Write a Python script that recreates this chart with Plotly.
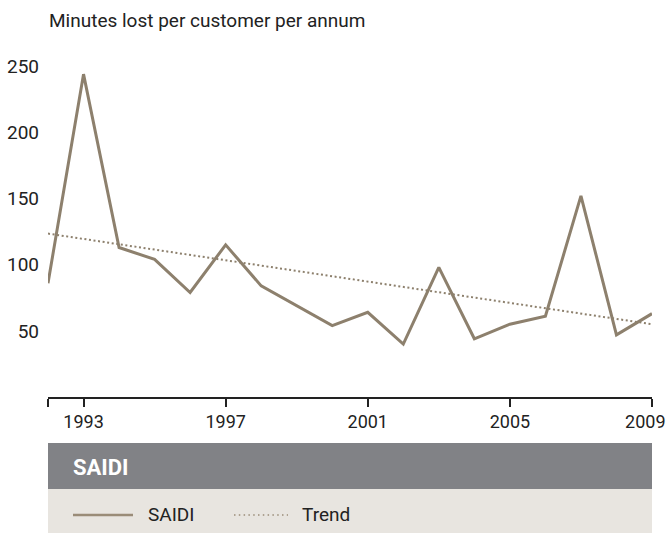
import plotly.graph_objects as go

years = list(range(1992, 2010))
saidi = [86, 244, 113, 104, 79, 115, 84, 69, 54, 64, 40, 98, 44, 55, 61, 152, 47, 63]
trend_years = [1992, 2009]
trend = [123.5, 55]

y_ticks = [50, 100, 150, 200, 250]
x_ticks = [1993, 1997, 2001, 2005, 2009]

line_col = "#8d806d"
font = "Roboto, 'Liberation Sans', sans-serif"

W, H = 671, 533
L, R, T, B = 48, 19, 53, 136
plot_h = H - T - B


def py(px):
    # page pixel row -> paper y
    return (H - B - px) / plot_h


def px_x(px):
    return (px - L) / (W - L - R)


# last label sits against the page edge; nbsp padding nudges it back inside
tick_text = [""] + [str(v) for v in x_ticks]
tick_text[-1] += "\u00a0\u00a0\u00a0"

fig = go.Figure()
fig.add_trace(go.Scatter(x=years, y=saidi, mode="lines", name="SAIDI",
                         line=dict(color=line_col, width=3), showlegend=False))
fig.add_trace(go.Scatter(x=trend_years, y=trend, mode="lines", name="Trend",
                         line=dict(color=line_col, width=2, dash="2px,2.6px"),
                         showlegend=False))

shapes = [
    # header bar
    dict(type="rect", xref="paper", yref="paper", x0=0, x1=1, y0=py(489), y1=py(443),
         fillcolor="#818286", line_width=0, layer="below"),
    # legend box
    dict(type="rect", xref="paper", yref="paper", x0=0, x1=1, y0=py(534), y1=py(489),
         fillcolor="#e8e5e0", line_width=0, layer="below"),
    # legend samples
    dict(type="line", xref="paper", yref="paper", x0=px_x(73), x1=px_x(133), y0=py(515), y1=py(515),
         line=dict(color="#9a8c78", width=2.5)),
    dict(type="line", xref="paper", yref="paper", x0=px_x(234), x1=px_x(288), y0=py(515), y1=py(515),
         line=dict(color="#9a8c78", width=1.5, dash="1.5px,3.3px")),
]

annotations = [
    dict(text="Minutes lost per customer per annum", xref="paper", yref="paper",
         x=px_x(47), y=py(20), xanchor="left", yanchor="middle", showarrow=False,
         font=dict(size=19, color="#222")),
    dict(text="<b>SAIDI</b>", xref="paper", yref="paper", x=px_x(71), y=py(467),
         xanchor="left", yanchor="middle", showarrow=False,
         font=dict(size=22, color="white")),
    dict(text="SAIDI", xref="paper", yref="paper", x=px_x(146), y=py(514),
         xanchor="left", yanchor="middle", showarrow=False,
         font=dict(size=19, color="#222")),
    dict(text="Trend", xref="paper", yref="paper", x=px_x(300), y=py(514),
         xanchor="left", yanchor="middle", showarrow=False,
         font=dict(size=19, color="#222")),
]

fig.update_layout(
    width=W, height=H,
    margin=dict(l=L, r=R, t=T, b=B),
    paper_bgcolor="white", plot_bgcolor="white",
    font=dict(family=font, size=19, color="#222"),
    shapes=shapes, annotations=annotations,
    xaxis=dict(range=[1992, 2009], tickvals=[1992] + x_ticks, ticktext=tick_text,
               tickfont=dict(size=18),
               showgrid=False, zeroline=False, showline=True, linecolor="#222", linewidth=1.5,
               ticks="outside", ticklen=8, tickwidth=1.5, tickcolor="#222",
               ticklabeloverflow="allow", automargin=False),
    yaxis=dict(range=[0, 260], tickvals=y_ticks, showgrid=False, zeroline=False,
               showline=False, ticks="", ticklabelstandoff=8, automargin=False),
)

# drop the browser's default body margin so the figure fills the window
fig.write_html("out.html", config={"displayModeBar": False},
               post_script="document.body.style.margin='0';"
                           "document.body.style.overflow='hidden';")
